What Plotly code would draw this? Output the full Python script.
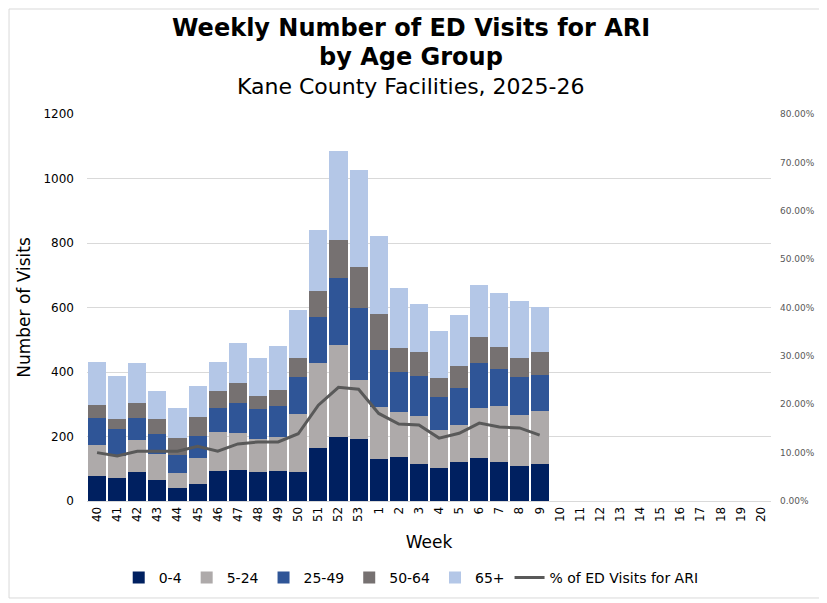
####################################################################################################################
# plot.py
#
# weekly ED visits for ARI by age group - stacked bars + % line on second axis

####################################################################################################################
# IMPORTS
import plotly.graph_objects as go

####################################################################################################################
# DATA

weeks = [str(w) for w in range(40, 54)] + [str(w) for w in range(1, 21)]  # full season axis, 40..53 then 1..20
weeks_reported = weeks[:23]  # weeks 40 -> 9 have data

age_0_4 = [77, 71, 90, 65, 40, 53, 93, 96, 90, 93, 90, 164, 198, 192, 130, 136, 114, 102, 121, 133, 121, 108, 114]
age_5_24 = [96, 69, 99, 80, 47, 80, 120, 114, 102, 105, 179, 263, 285, 182, 161, 139, 149, 118, 114, 155, 173, 158, 164]
age_25_49 = [84, 83, 68, 62, 55, 68, 75, 93, 93, 96, 114, 145, 210, 223, 176, 124, 124, 102, 115, 139, 114, 118, 112]
age_50_64 = [40, 31, 46, 47, 53, 59, 52, 62, 40, 49, 59, 78, 117, 130, 114, 74, 74, 58, 68, 80, 71, 58, 71]
age_65_plus = [133, 133, 124, 86, 93, 96, 90, 124, 117, 139, 149, 191, 276, 300, 242, 186, 151, 146, 160, 164, 167, 177, 142]
pct_ari = [0.100, 0.093, 0.103, 0.103, 0.103, 0.113, 0.103, 0.118, 0.122, 0.122, 0.139, 0.198, 0.235, 0.231,
           0.181, 0.159, 0.157, 0.130, 0.140, 0.161, 0.153, 0.151, 0.136]

group_names = ['0-4', '5-24', '25-49', '50-64', '65+']
group_values = [age_0_4, age_5_24, age_25_49, age_50_64, age_65_plus]
group_colors = ['#002060', '#AEAAAA', '#2F5597', '#767171', '#B4C7E7']

FONT = 'DejaVu Sans'

####################################################################################################################
# FIGURE

fig = go.Figure()

for name, vals, col in zip(group_names, group_values, group_colors):
    fig.add_trace(go.Bar(x=weeks_reported, y=vals, name=name, marker=dict(color=col, line=dict(width=0))))

fig.add_trace(go.Scatter(x=weeks_reported, y=pct_ari, name='% of ED Visits for ARI', yaxis='y2',
                         mode='lines', line=dict(color='#595959', width=3)))

# empty trace so the weeks with no data still get a slot on the axis
fig.add_trace(go.Scatter(x=weeks, y=[None] * len(weeks), showlegend=False, hoverinfo='skip', mode='lines'))

# titles as separate annotations so the line spacing can be matched
fig.add_annotation(text='<b>Weekly Number of ED Visits for ARI</b>', x=0.474, y=1.2222, xref='paper', yref='paper',
                   showarrow=False, font=dict(family=FONT, size=24, color='black'), yanchor='middle')
fig.add_annotation(text='<b>by Age Group</b>', x=0.474, y=1.1473, xref='paper', yref='paper',
                   showarrow=False, font=dict(family=FONT, size=24, color='black'), yanchor='middle')
fig.add_annotation(text='Kane County Facilities, 2025-26', x=0.474, y=1.0698, xref='paper', yref='paper',
                   showarrow=False, font=dict(family=FONT, size=22, color='black'), yanchor='middle')

# light border around the whole chart (left/top kept just inside the figure edge)
fig.add_shape(type='rect', xref='paper', yref='paper', x0=-0.114, x1=1.0746, y0=-0.2506, y1=1.2713,
              line=dict(color='#D9D9D9', width=1), layer='below')

# page body has an 8px margin, so the figure is 8px smaller and the margins are shifted
fig.update_layout(
    width=819, height=595,
    margin=dict(l=79, r=56, t=106, b=102, autoexpand=False),
    paper_bgcolor='white', plot_bgcolor='white',
    barmode='stack', bargap=0.1,
    font=dict(family=FONT, size=12, color='#000000'),
    showlegend=True,
    legend=dict(orientation='h', x=0.474, xanchor='center', y=-0.199, yanchor='middle',
                traceorder='normal', font=dict(size=14, color='#000000')),
    xaxis=dict(type='category', categoryorder='array', categoryarray=weeks, range=[-0.5, len(weeks) - 0.5],
               tickangle=-90, showgrid=False, showline=True, linecolor='#D9D9D9', ticks='', automargin=False,
               tickfont=dict(size=12), title=dict(text='Week', font=dict(size=17), standoff=15)),
    yaxis=dict(range=[0, 1200], dtick=200, showgrid=True, gridcolor='#D9D9D9', zeroline=False, automargin=False,
               tickfont=dict(size=12), ticks='', ticklen=0, ticklabelstandoff=12,
               title=dict(text='Number of Visits', font=dict(size=17), standoff=8)),
    yaxis2=dict(overlaying='y', side='right', range=[0, 0.8], dtick=0.1, tickformat='.2%', automargin=False,
                showgrid=False, zeroline=False, ticklabelstandoff=8, tickfont=dict(size=9, color='#595959')),
)

fig.write_html('out.html')
